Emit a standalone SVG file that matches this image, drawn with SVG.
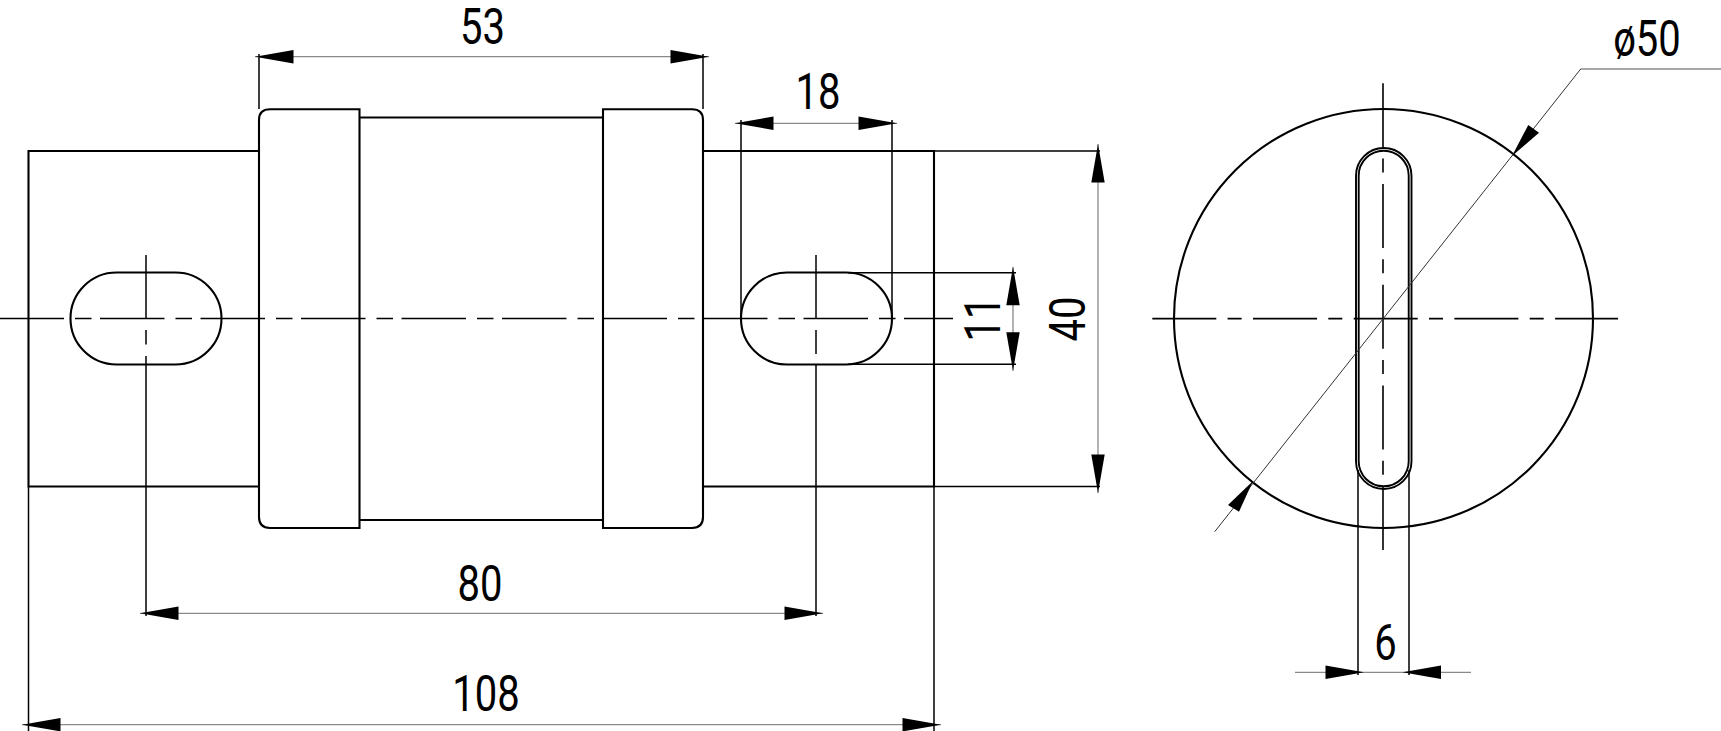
<svg xmlns="http://www.w3.org/2000/svg" width="1721" height="731" viewBox="0 0 1721 731">
<style>
.o{fill:none;stroke:#000;stroke-width:2.1}
.s{fill:none;stroke:#000;stroke-width:1.9}
.t{fill:none;stroke:#000;stroke-width:1.5}
.d{fill:none;stroke:#8a8a8a;stroke-width:1.3}
.c{fill:none;stroke:#000;stroke-width:1.6}
.a{fill:#000}
.l{font-family:Roboto,"Liberation Sans",sans-serif;font-size:50px;fill:#000;text-anchor:middle}
</style>
<defs><path id="arr" d="M0 0L38.5 -6.7V6.7Z"/></defs>
<rect width="1721" height="731" fill="#fff"/>
<g id="front-view">
<path class="o" d="M259 151H28.5V486.5H259M703 151H934V486.5H703"/>
<path class="o" d="M259 120Q259 109.3 270 109.3H359.5V528H270Q259 528 259 517Z"/>
<path class="o" d="M603 109.3H692Q703 109.3 703 120V517Q703 528 692 528H603Z"/>
<path class="o" d="M359.5 117.5H603M359.5 520H603"/>
<rect class="o" x="70.5" y="272.5" width="151" height="92" rx="46" ry="46"/>
<rect class="o" x="741" y="272.5" width="151" height="92" rx="46" ry="46"/>
<path class="c" d="M0 318.5H953" stroke-dasharray="64.5 11 16.5 8.5" stroke-dashoffset="0.5"/>
</g>
<g id="side-view">
<circle class="o" cx="1383.5" cy="318.5" r="209.5"/>
<rect class="s" x="1356" y="148" width="55.5" height="341" rx="27.7" ry="27.7"/>
<rect class="s" x="1358.7" y="150.7" width="50" height="335.6" rx="25" ry="25"/>
<path class="c" d="M1152.3 318.6H1618" stroke-dasharray="64 11.3 14 11.4"/>
<path class="c" d="M1383 83.3V550" stroke-dasharray="64 11.3 14 11.4"/>
</g>
<g id="connectors">
<path class="t" d="M146 255V318.5M146 330V344.5M146 356V616"/>
<path class="t" d="M816 255V318.5M816 330V354M816 364V616"/>
<path class="t" d="M259 54V109M703 54V109"/>
<path class="t" d="M741 120V318M892 120V318"/>
<path class="t" d="M934 151H1100M934 486.5H1100M848 272.7H1016M848 364.3H1016"/>
<path class="t" d="M28.5 486.5V731M934 486.5V731"/>
<path class="t" d="M1358 470V675M1409 470V675"/>
<path class="d" d="M255 56.7H709M735 123.3H897M140 613.3H823M22 724.7H941"/>
<path class="d" d="M1098 144V493M1013 267V371"/>
<path class="d" d="M1295 672.3H1471"/>
<path class="d" d="M1721 69H1580.7"/>
<path fill="none" stroke="#333" stroke-width="1" d="M1580.7 69L1214.7 531.7"/>
<use class="a" href="#arr" x="255" y="56.7"/>
<use class="a" href="#arr" transform="translate(709 56.7) rotate(180)"/>
<use class="a" href="#arr" x="735" y="123.3"/>
<use class="a" href="#arr" transform="translate(897 123.3) rotate(180)"/>
<use class="a" href="#arr" x="140" y="613.3"/>
<use class="a" href="#arr" transform="translate(823 613.3) rotate(180)"/>
<use class="a" href="#arr" x="22" y="724.7"/>
<use class="a" href="#arr" transform="translate(941 724.7) rotate(180)"/>
<use class="a" href="#arr" transform="translate(1098 144) rotate(90)"/>
<use class="a" href="#arr" transform="translate(1098 493) rotate(-90)"/>
<use class="a" href="#arr" transform="translate(1013 266.7) rotate(90)"/>
<use class="a" href="#arr" transform="translate(1013 370.7) rotate(-90)"/>
<use class="a" href="#arr" transform="translate(1364 672.3) rotate(180)"/>
<use class="a" href="#arr" x="1402.5" y="672.3"/>
<polygon class="a" points="1512,156 1528.3,125 1539,132.7"/>
<polygon class="a" points="1253,481 1228,505 1239,511.7"/>
</g>
<g id="labels">
<text class="l" transform="translate(482.5 44) scale(0.8 1)">53</text>
<text class="l" transform="translate(818 109) scale(0.8 1)">18</text>
<text class="l" transform="translate(480 600.5) scale(0.8 1)">80</text>
<text class="l" transform="translate(486 710.5) scale(0.8 1)">108</text>
<text class="l" transform="translate(1385.5 660) scale(0.8 1)">6</text>
<text class="l" transform="translate(1647 56) scale(0.8 1)">ø50</text>
<text class="l" transform="translate(1085 319) rotate(-90) scale(0.8 1)">40</text>
<text class="l" transform="translate(1000 319) rotate(-90) scale(0.8 1)">11</text>
</g>
</svg>
